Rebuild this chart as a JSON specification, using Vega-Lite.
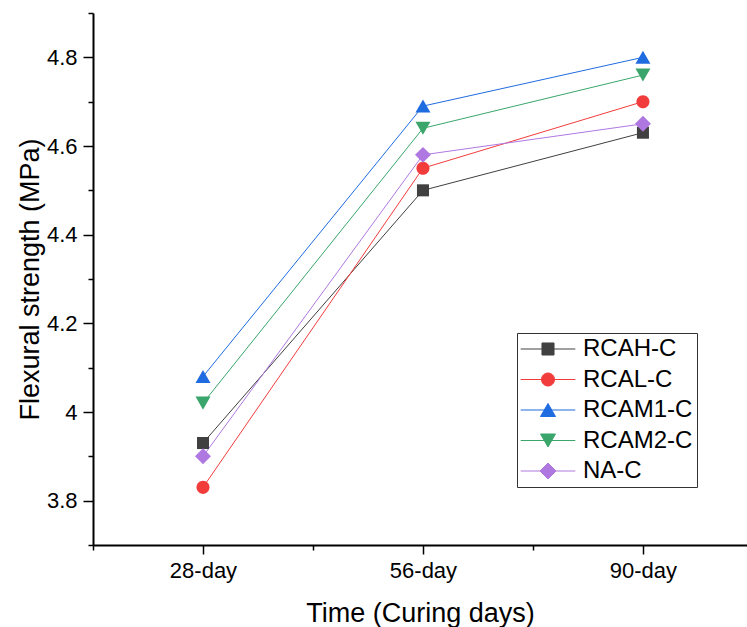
{
  "$schema": "https://vega.github.io/schema/vega-lite/v6.json",
  "width": 654,
  "height": 532,
  "autosize": {"type": "none"},
  "padding": {"left": 93, "top": 13, "right": 0, "bottom": 82},
  "background": "white",
  "config": {
    "view": {"stroke": null},
    "font": "Liberation Sans",
    "axis": {"grid": false, "domainColor": "black", "tickColor": "black", "labelColor": "black", "titleColor": "black", "labelFont": "Liberation Sans", "titleFont": "Liberation Sans", "titleFontWeight": "normal"},
    "legend": {"labelFont": "Liberation Sans", "orient": "none", "legendX": 424, "legendY": 320, "labelFontSize": 24, "labelColor": "black", "symbolSize": 196, "symbolStrokeWidth": 1, "symbolOpacity": 1, "strokeColor": "#333333", "fillColor": "white", "padding": 4, "rowPadding": 6.5, "labelOffset": 23, "symbolOffset": 15}
  },
  "data": {
    "values": [
      {"series": "RCAH-C", "age": 1, "strength": 3.93},
      {"series": "RCAH-C", "age": 2, "strength": 4.50},
      {"series": "RCAH-C", "age": 3, "strength": 4.63},
      {"series": "RCAL-C", "age": 1, "strength": 3.83},
      {"series": "RCAL-C", "age": 2, "strength": 4.55},
      {"series": "RCAL-C", "age": 3, "strength": 4.70},
      {"series": "RCAM1-C", "age": 1, "strength": 4.08},
      {"series": "RCAM1-C", "age": 2, "strength": 4.69},
      {"series": "RCAM1-C", "age": 3, "strength": 4.80},
      {"series": "RCAM2-C", "age": 1, "strength": 4.02},
      {"series": "RCAM2-C", "age": 2, "strength": 4.64},
      {"series": "RCAM2-C", "age": 3, "strength": 4.76},
      {"series": "NA-C", "age": 1, "strength": 3.90},
      {"series": "NA-C", "age": 2, "strength": 4.58},
      {"series": "NA-C", "age": 3, "strength": 4.65}
    ]
  },
  "layer": [
    {
      "mark": {"type": "line", "strokeWidth": 1},
      "encoding": {
        "x": {"field": "age", "type": "quantitative", "scale": {"domain": [0.5, 3.473], "nice": false, "zero": false},
          "axis": {"orient": "bottom", "values": [1, 2, 3], "labelExpr": "datum.value == 1 ? '28-day' : datum.value == 2 ? '56-day' : '90-day'", "title": "Time (Curing days)", "titleFontSize": 27, "labelFontSize": 22, "tickSize": 9, "tickWidth": 1.5, "domainWidth": 2, "labelPadding": 6, "titlePadding": 19, "labelFlush": false}},
        "y": {"field": "strength", "type": "quantitative", "scale": {"domain": [3.7, 4.9], "nice": false, "zero": false},
          "axis": {"orient": "left", "values": [3.8, 4.0, 4.2, 4.4, 4.6, 4.8], "format": ".1~f", "title": "Flexural strength (MPa)", "titleFontSize": 27, "labelFontSize": 22, "tickSize": 10, "tickWidth": 1.5, "domainWidth": 2, "labelPadding": 6, "titlePadding": 2, "labelFlush": false}},
        "color": {"field": "series", "type": "nominal",
          "scale": {"domain": ["RCAH-C", "RCAL-C", "RCAM1-C", "RCAM2-C", "NA-C"], "range": ["#404040", "#F23C3C", "#1F6BE0", "#3AA66B", "#AF78E0"]},
          "legend": null}
      }
    },
    {
      "mark": {"type": "point", "filled": true, "opacity": 1, "size": 196, "strokeWidth": 0},
      "encoding": {
        "x": {"field": "age", "type": "quantitative",
          "axis": {"orient": "bottom", "values": [0.5, 1.5, 2.5], "labels": false, "title": null, "domain": false, "tickSize": 5, "tickWidth": 1.5}},
        "y": {"field": "strength", "type": "quantitative",
          "axis": {"orient": "left", "values": [3.7, 3.9, 4.1, 4.3, 4.5, 4.7, 4.9], "labels": false, "title": null, "domain": false, "tickSize": 5, "tickWidth": 1.5}},
        "color": {"field": "series", "type": "nominal", "legend": null},
        "shape": {"field": "series", "type": "nominal",
          "scale": {"domain": ["RCAH-C", "RCAL-C", "RCAM1-C", "RCAM2-C", "NA-C"],
            "range": ["M-0.86,-0.86H0.86V0.86H-0.86Z", "M0.93,0A0.93,0.93 0 1,1 -0.93,0A0.93,0.93 0 1,1 0.93,0Z", "M0,-0.93L1.07,0.93H-1.07Z", "M0,0.93L1.07,-0.93H-1.07Z", "M0,-1.14L1.14,0L0,1.14L-1.14,0Z"]},
          "legend": null}
      }
    },
    {
      "mark": {"type": "point", "filled": true, "opacity": 0, "size": 196, "strokeWidth": 1},
      "encoding": {
        "x": {"field": "age", "type": "quantitative", "axis": null},
        "y": {"field": "strength", "type": "quantitative", "axis": null},
        "color": {"field": "series", "type": "nominal", "legend": null},
        "shape": {"field": "series", "type": "nominal",
          "scale": {"domain": ["RCAH-C", "RCAL-C", "RCAM1-C", "RCAM2-C", "NA-C"],
            "range": ["M-3.9,0H3.9M-0.86,-0.86H0.86V0.86H-0.86Z", "M-3.9,0H3.9M0.93,0A0.93,0.93 0 1,1 -0.93,0A0.93,0.93 0 1,1 0.93,0Z", "M-3.9,0H3.9M0,-0.93L1.07,0.93H-1.07Z", "M-3.9,0H3.9M0,0.93L1.07,-0.93H-1.07Z", "M-3.9,0H3.9M0,-1.14L1.14,0L0,1.14L-1.14,0Z"]},
          "legend": {"title": null,
            "symbolFillColor": {"expr": "scale('color', datum.value)"},
            "symbolStrokeColor": {"expr": "scale('color', datum.value)"}}}
      }
    }
  ],
  "resolve": {"scale": {"shape": "independent"}, "axis": {"x": "independent", "y": "independent"}}
}
